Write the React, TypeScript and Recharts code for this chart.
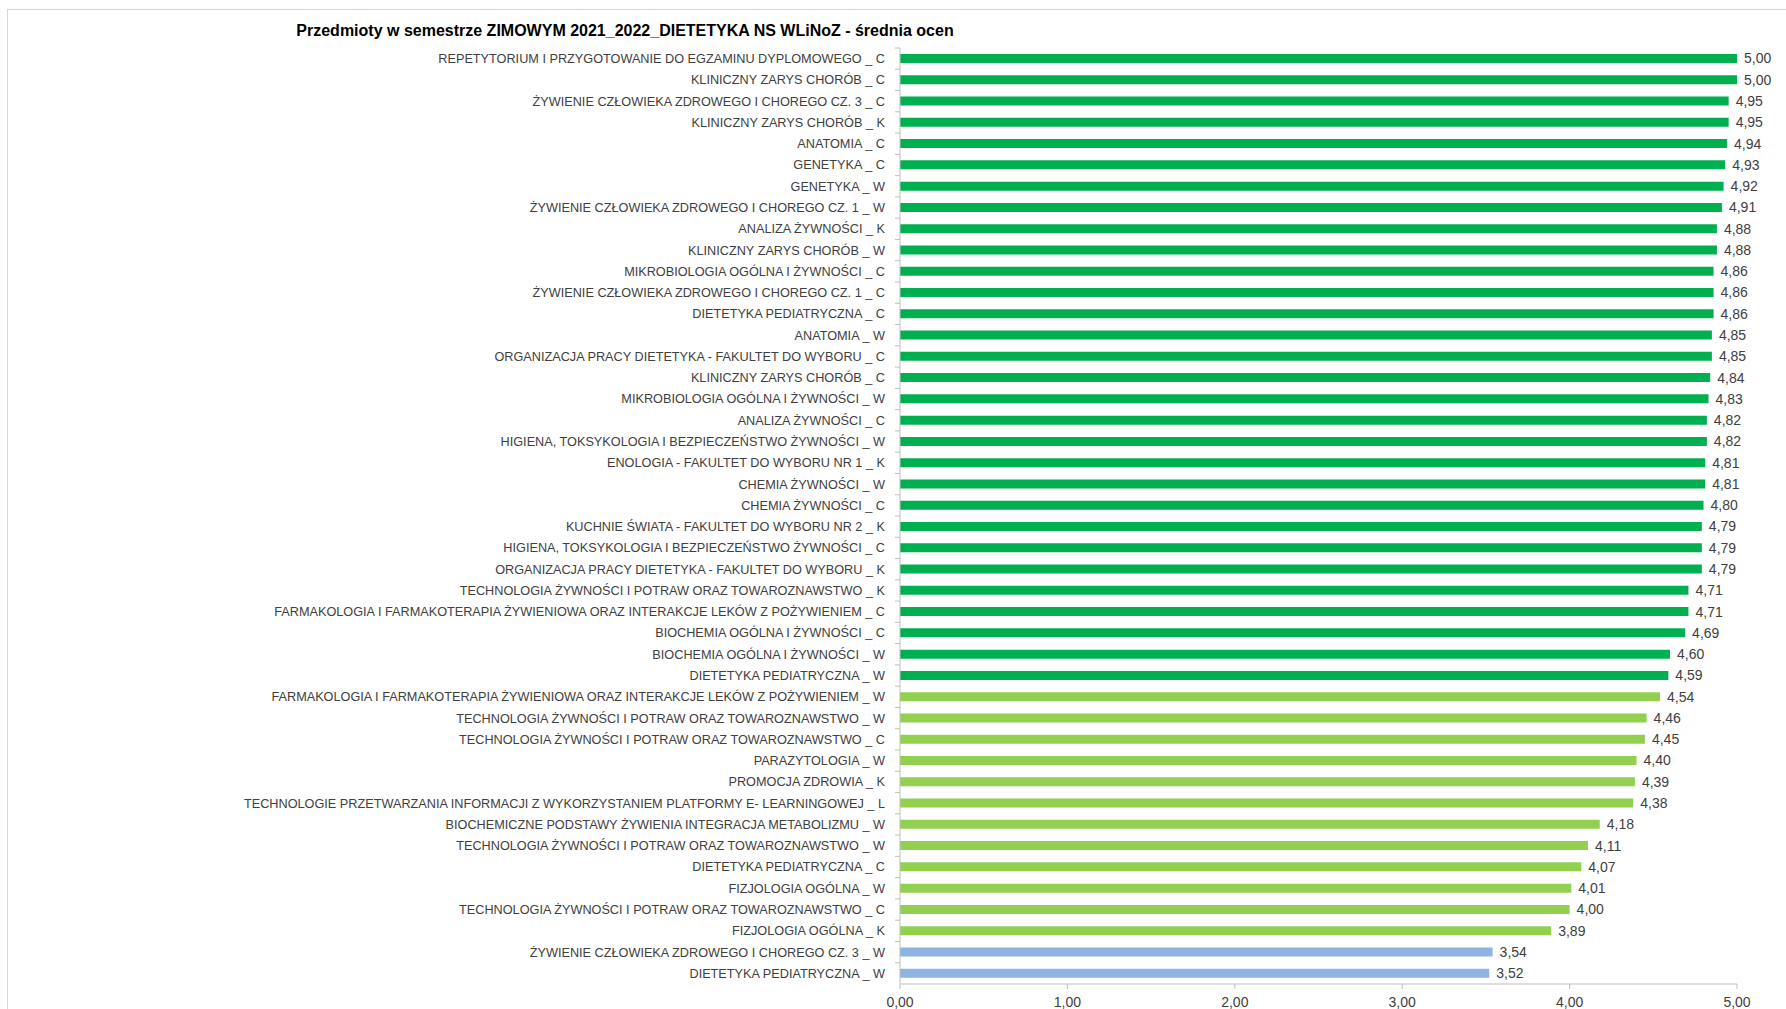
import { Bar, BarChart, Cell, LabelList, XAxis, YAxis } from "recharts";

const categories = [
  "REPETYTORIUM I PRZYGOTOWANIE DO EGZAMINU DYPLOMOWEGO _ C",
  "KLINICZNY ZARYS CHORÓB _ C",
  "ŻYWIENIE CZŁOWIEKA ZDROWEGO I CHOREGO CZ. 3 _ C",
  "KLINICZNY ZARYS CHORÓB _ K",
  "ANATOMIA _ C",
  "GENETYKA _ C",
  "GENETYKA _ W",
  "ŻYWIENIE CZŁOWIEKA ZDROWEGO I CHOREGO CZ. 1 _ W",
  "ANALIZA ŻYWNOŚCI _ K",
  "KLINICZNY ZARYS CHORÓB _ W",
  "MIKROBIOLOGIA OGÓLNA I ŻYWNOŚCI _ C",
  "ŻYWIENIE CZŁOWIEKA ZDROWEGO I CHOREGO CZ. 1 _ C",
  "DIETETYKA PEDIATRYCZNA _ C",
  "ANATOMIA _ W",
  "ORGANIZACJA PRACY DIETETYKA - FAKULTET DO WYBORU  _ C",
  "KLINICZNY ZARYS CHORÓB _ C",
  "MIKROBIOLOGIA OGÓLNA I ŻYWNOŚCI _ W",
  "ANALIZA ŻYWNOŚCI _ C",
  "HIGIENA, TOKSYKOLOGIA I BEZPIECZEŃSTWO ŻYWNOŚCI _ W",
  "ENOLOGIA - FAKULTET DO WYBORU NR 1 _ K",
  "CHEMIA ŻYWNOŚCI _ W",
  "CHEMIA ŻYWNOŚCI _ C",
  "KUCHNIE ŚWIATA -  FAKULTET DO WYBORU NR 2 _ K",
  "HIGIENA, TOKSYKOLOGIA I BEZPIECZEŃSTWO ŻYWNOŚCI _ C",
  "ORGANIZACJA PRACY DIETETYKA - FAKULTET DO WYBORU  _ K",
  "TECHNOLOGIA ŻYWNOŚCI I POTRAW ORAZ TOWAROZNAWSTWO _ K",
  "FARMAKOLOGIA I FARMAKOTERAPIA ŻYWIENIOWA ORAZ INTERAKCJE LEKÓW Z POŻYWIENIEM _ C",
  "BIOCHEMIA OGÓLNA I ŻYWNOŚCI _ C",
  "BIOCHEMIA OGÓLNA I ŻYWNOŚCI _ W",
  "DIETETYKA PEDIATRYCZNA _ W",
  "FARMAKOLOGIA I FARMAKOTERAPIA ŻYWIENIOWA ORAZ INTERAKCJE LEKÓW Z POŻYWIENIEM _ W",
  "TECHNOLOGIA ŻYWNOŚCI I POTRAW ORAZ TOWAROZNAWSTWO _ W",
  "TECHNOLOGIA ŻYWNOŚCI I POTRAW ORAZ TOWAROZNAWSTWO _ C",
  "PARAZYTOLOGIA _ W",
  "PROMOCJA ZDROWIA _ K",
  "TECHNOLOGIE PRZETWARZANIA INFORMACJI Z WYKORZYSTANIEM PLATFORMY E- LEARNINGOWEJ _ L",
  "BIOCHEMICZNE PODSTAWY ŻYWIENIA INTEGRACJA METABOLIZMU _ W",
  "TECHNOLOGIA ŻYWNOŚCI I POTRAW ORAZ TOWAROZNAWSTWO _ W",
  "DIETETYKA PEDIATRYCZNA _ C",
  "FIZJOLOGIA OGÓLNA _ W",
  "TECHNOLOGIA ŻYWNOŚCI I POTRAW ORAZ TOWAROZNAWSTWO _ C",
  "FIZJOLOGIA OGÓLNA _ K",
  "ŻYWIENIE CZŁOWIEKA ZDROWEGO I CHOREGO CZ. 3 _ W",
  "DIETETYKA PEDIATRYCZNA _ W",
];

const averages = [
  5.0, 5.0, 4.95, 4.95, 4.94, 4.93, 4.92, 4.91, 4.88, 4.88, 4.86, 4.86, 4.86,
  4.85, 4.85, 4.84, 4.83, 4.82, 4.82, 4.81, 4.81, 4.8, 4.79, 4.79, 4.79, 4.71,
  4.71, 4.69, 4.6, 4.59, 4.54, 4.46, 4.45, 4.4, 4.39, 4.38, 4.18, 4.11, 4.07,
  4.01, 4.0, 3.89, 3.54, 3.52,
];

const xTicks = [0, 1, 2, 3, 4, 5];

const rows = categories.map((name, i) => ({ id: i, name, avg: averages[i] }));

const FONT = "'Liberation Sans', Arial, sans-serif";
const TEXT = "#404040";
const GRID = "#bfbfbf";
const PLOT_TOP = 48;
const PLOT_BOTTOM = 984;
const BAND = (PLOT_BOTTOM - PLOT_TOP) / categories.length;

function barColor(v: number) {
  if (v >= 4.55) return "#00b050";
  if (v >= 3.6) return "#92d050";
  return "#8db4e2";
}

function fmt(v: number) {
  return Number(v).toFixed(2).replace(".", ",");
}

function CategoryTick(props: any) {
  const { x, y, payload } = props;
  return (
    <g>
      <line x1={x + 10} x2={x + 15} y1={y - BAND / 2} y2={y - BAND / 2} stroke={GRID} />
      <text x={x} y={y} dy="0.35em" textAnchor="end" fill={TEXT} fontSize={12.7} fontFamily={FONT}>
        {categories[payload.value]}
      </text>
    </g>
  );
}

export default function App() {
  return (
    <div style={{ position: "absolute", left: 0, top: 0, width: 1786, height: 1009, background: "#fff", overflow: "hidden" }}>
      <div
        style={{
          position: "absolute",
          left: 7,
          top: 9,
          width: 1779,
          height: 1000,
          borderTop: "1px solid #d9d9d9",
          borderLeft: "1px solid #d9d9d9",
        }}
      />
      <div
        style={{
          position: "absolute",
          left: 0,
          top: 22,
          width: 1250,
          textAlign: "center",
          fontFamily: FONT,
          fontWeight: "bold",
          fontSize: 16,
          color: "#000",
        }}
      >
        Przedmioty w semestrze ZIMOWYM 2021_2022_DIETETYKA NS WLiNoZ - średnia ocen
      </div>
      <div style={{ position: "absolute", left: 0, top: 0 }}>
        <BarChart
          width={1786}
          height={1009}
          data={rows}
          layout="vertical"
          margin={{ top: PLOT_TOP, right: 49, left: 0, bottom: 0 }}
        >
          <XAxis
            type="number"
            domain={[0, 5]}
            ticks={xTicks}
            height={1009 - PLOT_BOTTOM}
            tickFormatter={fmt}
            axisLine={{ stroke: GRID }}
            tickLine={{ stroke: GRID }}
            tickSize={5}
            tickMargin={8}
            tick={{ fill: TEXT, fontSize: 14, fontFamily: FONT }}
          />
          <YAxis
            type="category"
            dataKey="id"
            width={900}
            axisLine={{ stroke: GRID }}
            tickLine={false}
            tickSize={5}
            tickMargin={10}
            interval={0}
            tick={<CategoryTick />}
          />
          <Bar dataKey="avg" barSize={9} isAnimationActive={false}>
            {rows.map((r) => (
              <Cell key={r.id} fill={barColor(r.avg)} />
            ))}
            <LabelList
              dataKey="avg"
              position="right"
              offset={7}
              formatter={fmt}
              fill={TEXT}
              fontSize={14}
              fontFamily={FONT}
            />
          </Bar>
        </BarChart>
      </div>
    </div>
  );
}
